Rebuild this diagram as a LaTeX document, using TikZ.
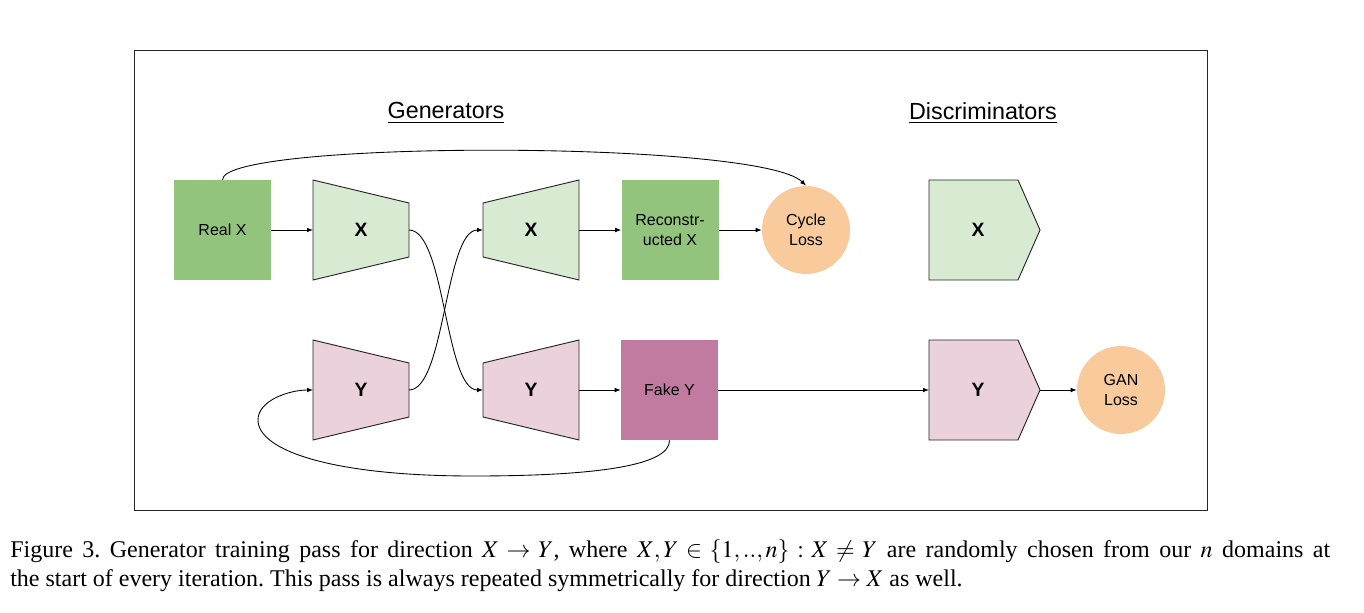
\documentclass[tikz,border=0pt]{standalone}
\usepackage{mathptmx}
\usepackage{fontspec}
\setmainfont{Liberation Serif}
\setsansfont{Liberation Sans}
\usetikzlibrary{arrows.meta}
\definecolor{realgreen}{HTML}{93C47D}
\definecolor{lightgreen}{HTML}{D9EAD3}
\definecolor{lightpink}{HTML}{EAD1DC}
\definecolor{fakemag}{HTML}{C27BA0}
\definecolor{lossorange}{HTML}{F9CB9C}
\tikzset{
  conn/.style={draw=black, line width=0.65pt, -{Latex[length=4.5pt,width=3.5pt]}},
  imgbox/.style={draw=none, minimum width=72.75pt, minimum height=75pt, inner sep=0pt, align=center,
    font=\sffamily\fontsize{12}{15}\selectfont},
  lossnode/.style={circle, draw=none, fill=lossorange, minimum size=66pt, inner sep=0pt, align=center,
    font=\sffamily\fontsize{12}{15}\selectfont},
  netshape/.style={draw=black!85, line width=0.7pt},
  netlabel/.style={font=\sffamily\bfseries\fontsize{14.5}{17}\selectfont, inner sep=0pt},
  titlelabel/.style={font=\sffamily\fontsize{17.5}{21}\selectfont, inner sep=0pt},
  captionline/.style={anchor=base west, inner sep=0pt, font=\rmfamily\fontsize{18}{21.75}\selectfont}
}
\begin{document}
\frenchspacing
\begin{tikzpicture}[x=0.75pt,y=-0.75pt]
\useasboundingbox (0,0) rectangle (1364,613);
% frame
\draw[line width=0.7pt, draw=black!85] (134,50) rectangle (1207,510);
% titles
\node[titlelabel] (gent) at (446,113) {\underline{Generators}};
\node[titlelabel] (dist) at (983,113) {\underline{Discriminators}};
% boxes
\node[imgbox, fill=realgreen] (realx) at (222.5,230) {Real X};
\node[imgbox, fill=realgreen] (recx) at (670,230) {Reconstr-\\ucted X};
\node[imgbox, fill=fakemag] (fakey) at (669.5,390) {Fake Y};
\node[lossnode] (cycle) at (806,230) {Cycle\\Loss};
\node[lossnode] (gan) at (1121,390) {GAN\\Loss};
% generator X
\draw[netshape, fill=lightgreen] (313,180) -- (409,203) -- (409,257) -- (313,280) -- cycle;
\node[netlabel] (gx) at (361,230) {X};
\coordinate (gxin) at (313,230); \coordinate (gxout) at (409,230);
% generator X2
\draw[netshape, fill=lightgreen] (483,203) -- (579,180) -- (579,280) -- (483,257) -- cycle;
\node[netlabel] (gx2) at (531,230) {X};
\coordinate (gx2in) at (483,230); \coordinate (gx2out) at (579,230);
% generator Y
\draw[netshape, fill=lightpink] (313,340) -- (409,363) -- (409,417) -- (313,440) -- cycle;
\node[netlabel] (gy) at (361,390) {Y};
\coordinate (gyin) at (313,390); \coordinate (gyout) at (409,390);
% generator Y2
\draw[netshape, fill=lightpink] (483,363) -- (579,340) -- (579,440) -- (483,417) -- cycle;
\node[netlabel] (gy2) at (531,390) {Y};
\coordinate (gy2in) at (483,390); \coordinate (gy2out) at (579,390);
% discriminator X
\draw[netshape, fill=lightgreen] (929,180) -- (1018,180) -- (1040,230) -- (1018,280) -- (929,280) -- cycle;
\node[netlabel] (dx) at (978,230) {X};
% discriminator Y
\draw[netshape, fill=lightpink] (929,340) -- (1018,340) -- (1040,390) -- (1018,440) -- (929,440) -- cycle;
\node[netlabel] (dy) at (978,390) {Y};
\coordinate (dyin) at (929,390); \coordinate (dyout) at (1040,390);
% connectors
\draw[conn] (realx.east) -- (gxin);
\draw[conn] (gxout) .. controls (445,230) and (445,390) .. (gy2in);
\draw[conn] (gyout) .. controls (445,390) and (445,230) .. (gx2in);
\draw[conn] (gx2out) -- (recx.west);
\draw[conn] (recx.east) -- (cycle.west);
\draw[conn] (gy2out) -- (fakey.west);
\draw[conn] (fakey.east) -- (dyin);
\draw[conn] (dyout) -- (gan.west);
\draw[conn] (realx.north) .. controls (222,140) and (760,140) .. (cycle.north);
\coordinate (lb) at (473,476);
\coordinate (ll) at (258,420);
\draw[conn] (fakey.south) .. controls (670,465) and (600,476) .. (lb)
  .. controls (330,476) and (258,450) .. (ll)
  .. controls (258,400) and (290,390) .. (gyin);
% caption
\node[captionline] (cap1) at (10,557) {\makebox[990pt][s]{Figure 3. Generator training pass for direction $X \rightarrow Y$, where $X,Y \in \{1,..,n\} : X \neq Y$ are randomly chosen from our $n$ domains at}};
\node[captionline] (cap2) at (10,586) {the start of every iteration. This pass is always repeated symmetrically for direction $Y \rightarrow X$ as well.};
\end{tikzpicture}
\end{document}
